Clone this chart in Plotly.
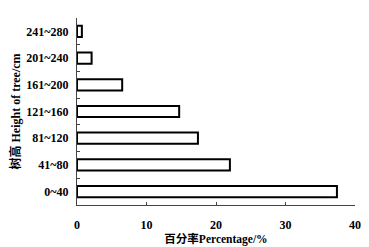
import plotly.graph_objects as go

categories = ["0~40", "41~80", "81~120", "121~160", "161~200", "201~240", "241~280"]
values = [37.4, 22.0, 17.4, 14.7, 6.5, 2.1, 0.7]
x_ticks = [0, 10, 20, 30, 40]

font_fam = "Liberation Serif, Times New Roman, Noto Sans CJK SC, serif"

fig = go.Figure()
fig.add_trace(go.Bar(
    x=values, y=categories, orientation="h",
    marker=dict(color="white", line=dict(color="black", width=2)),
    width=0.42,
))
fig.update_layout(
    width=369, height=247,
    margin=dict(l=69, r=22, t=10, b=50),
    plot_bgcolor="white", paper_bgcolor="white",
    showlegend=False,
    font=dict(family=font_fam, color="black", size=12),
)
fig.update_xaxes(
    range=[0, 40], tickvals=x_ticks, ticks="inside", ticklen=3,
    showgrid=False, zeroline=False, showline=True, linecolor="#444", linewidth=1,
    automargin=False, ticklabelstandoff=9,
    tickfont=dict(size=12, family=font_fam, weight="bold"),
    title=dict(text="百分率Percentage/%", font=dict(size=11.5, family=font_fam, weight="bold"), standoff=1),
)
fig.update_yaxes(
    type="category", categoryorder="array", categoryarray=categories,
    range=[-0.5, 6.5], ticks="inside", ticklen=3, tickson="boundaries",
    showgrid=False, zeroline=False, showline=True, linecolor="#444", linewidth=1,
    automargin=False, ticklabelstandoff=5,
    tickfont=dict(size=12, family=font_fam, weight="bold"),
    title=dict(text="树高 Height of tree/cm", font=dict(size=12, family=font_fam, weight="bold"), standoff=9),
)
fig.write_html("out.html")
